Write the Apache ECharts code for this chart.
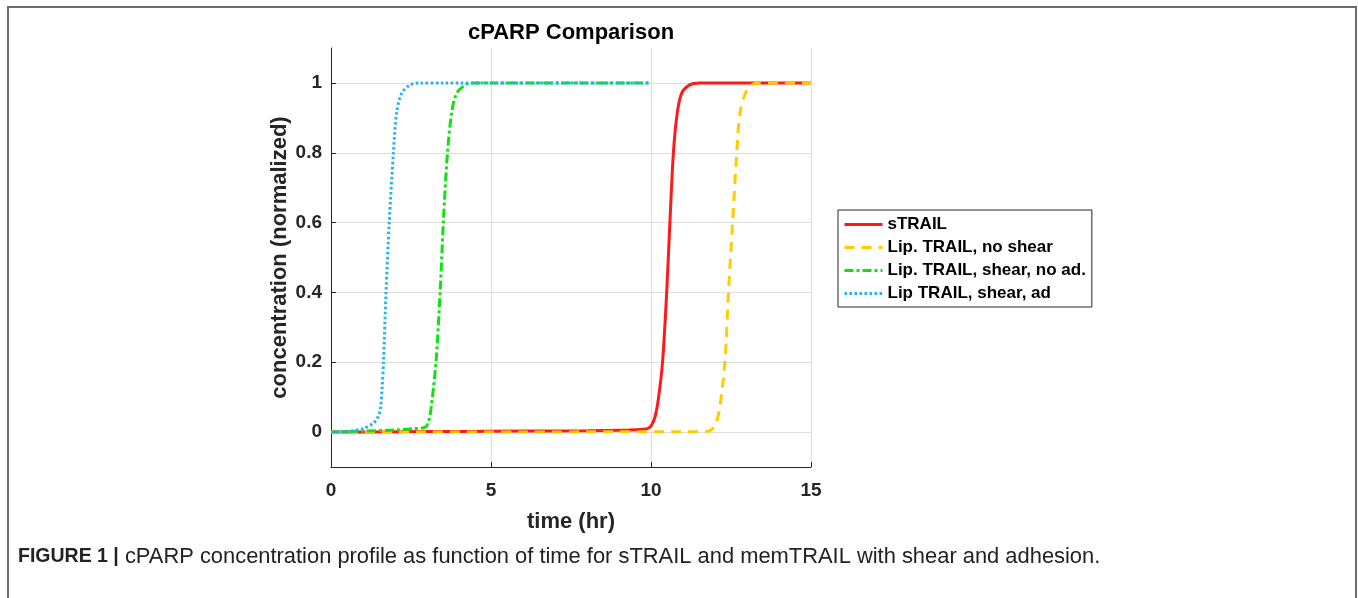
<!DOCTYPE html>
<html>
<head>
<meta charset="utf-8">
<script src="https://cdn.jsdelivr.net/npm/echarts@6/dist/echarts.min.js"></script>
<style>
html,body{margin:0;padding:0;background:#fff;}
#chart{width:1358px;height:598px;}
</style>
</head>
<body>
<div id="chart"></div>
<script>
// ---- data ----
const seriesNames = ['sTRAIL', 'Lip. TRAIL, no shear', 'Lip. TRAIL, shear, no ad.', 'Lip TRAIL, shear, ad'];

const sTrailTime = [0, 2, 4, 6, 8, 9.3, 9.75, 9.92, 10.02, 10.13, 10.23, 10.36, 10.49, 10.59, 10.70, 10.82, 10.96, 11.22, 11.53, 12, 13, 14, 15];
const sTrailConc = [0, 0.001, 0.002, 0.003, 0.004, 0.006, 0.008, 0.011, 0.02, 0.045, 0.095, 0.2, 0.4, 0.6, 0.8, 0.914, 0.971, 0.995, 1, 1, 1, 1, 1];

const noShearTime = [0, 3, 6, 9, 11, 11.74, 11.9, 12.03, 12.15, 12.31, 12.42, 12.55, 12.68, 12.78, 12.97, 13.15, 13.35, 14, 15];
const noShearConc = [0, 0, 0, 0.001, 0.001, 0.002, 0.008, 0.025, 0.07, 0.2, 0.4, 0.6, 0.8, 0.914, 0.975, 0.995, 1, 1, 1];

const shearNoAdTime = [0, 1, 2.05, 2.6, 2.95, 3.05, 3.13, 3.28, 3.41, 3.51, 3.64, 3.77, 3.93, 4.24, 4.44, 5, 7.5, 10];
const shearNoAdConc = [0, 0.003, 0.006, 0.01, 0.014, 0.03, 0.07, 0.2, 0.4, 0.6, 0.8, 0.914, 0.971, 0.997, 1, 1, 1, 1];

const shearAdTime = [0, 0.6, 1.0, 1.32, 1.48, 1.55, 1.6, 1.64, 1.72, 1.82, 1.95, 2.05, 2.21, 2.47, 2.78, 3.5, 5, 7.5, 10];
const shearAdConc = [0, 0.003, 0.01, 0.025, 0.045, 0.07, 0.13, 0.2, 0.4, 0.6, 0.8, 0.914, 0.971, 0.994, 1, 1, 1, 1, 1];

const xTicks = [0, 5, 10, 15];
const yTicks = [0, 0.2, 0.4, 0.6, 0.8, 1];

const titleText = 'cPARP Comparison';
const xName = 'time (hr)';
const yName = 'concentration (normalized)';
const captionBold = 'FIGURE 1 |';
const captionText = ' cPARP concentration profile as function of time for sTRAIL and memTRAIL with shear and adhesion.';

// ---- build ----
function pairs(t, c) { return t.map((v, i) => [v, c[i]]); }
const FONT = '"Liberation Sans", Arial, Helvetica, sans-serif';
const AX = '#262626';
const lineCommon = {type: 'line', showSymbol: false, symbol: 'none', smooth: 0.3};

const chart = echarts.init(document.getElementById('chart'), null, {renderer: 'canvas'});
chart.setOption({
  backgroundColor: '#ffffff',
  animation: false,
  title: {
    text: titleText, left: 566, top: 17, textAlign: 'center',
    textStyle: {fontFamily: FONT, fontWeight: 'bold', fontSize: 22, color: '#000'}
  },
  legend: {
    orient: 'vertical', left: 838, top: 210,
    padding: [6, 6, 5, 5], itemGap: 6, itemWidth: 38, itemHeight: 14,
    borderColor: '#262626', borderWidth: 1, backgroundColor: '#fff',
    itemStyle: {opacity: 0, color: 'rgba(0,0,0,0)', borderWidth: 0},
    lineStyle: {width: 3},
    textStyle: {fontFamily: FONT, fontWeight: 'bold', fontSize: 17, color: '#000'},
    data: seriesNames
  },
  grid: {left: 331, right: 547, top: 48, bottom: 131, containLabel: false},
  xAxis: {
    type: 'value', min: 0, max: 15, interval: 5,
    name: xName, nameLocation: 'middle', nameGap: 44,
    nameTextStyle: {fontFamily: FONT, fontWeight: 'bold', fontSize: 22, color: '#262626'},
    axisLine: {show: true, onZero: false, lineStyle: {color: AX, width: 1}},
    axisTick: {show: true, inside: true, length: 5, lineStyle: {color: AX}},
    axisLabel: {fontFamily: FONT, fontWeight: 'bold', fontSize: 19, color: '#262626', margin: 14},
    splitLine: {show: true, lineStyle: {color: '#dedede', width: 1}}
  },
  yAxis: {
    type: 'value', min: -0.1, max: 1.1,
    name: yName, nameLocation: 'middle', nameGap: 40,
    nameTextStyle: {fontFamily: FONT, fontWeight: 'bold', fontSize: 22, color: '#262626'},
    axisLine: {show: true, onZero: false, lineStyle: {color: AX, width: 1}},
    axisTick: {show: true, inside: true, length: 5, lineStyle: {color: AX}, customValues: yTicks},
    axisLabel: {fontFamily: FONT, fontWeight: 'bold', fontSize: 19, color: '#262626', margin: 9, customValues: yTicks},
    splitLine: {show: true, lineStyle: {color: '#dedede', width: 1}}
  },
  series: [
    Object.assign({name: seriesNames[0], data: pairs(sTrailTime, sTrailConc),
     color: '#ff1a1a', lineStyle: {color: '#ff1a1a', width: 3}}, lineCommon),
    Object.assign({name: seriesNames[1], data: pairs(noShearTime, noShearConc),
     color: '#ffcc00', lineStyle: {color: '#ffcc00', width: 3, type: [10, 7]}}, lineCommon),
    Object.assign({name: seriesNames[2], data: pairs(shearNoAdTime, shearNoAdConc),
     color: '#11e011', lineStyle: {color: '#11e011', width: 3, type: [9, 3, 3, 3]}}, lineCommon),
    Object.assign({name: seriesNames[3], data: pairs(shearAdTime, shearAdConc),
     color: '#22b4f0', lineStyle: {color: '#22b4f0', width: 3, type: [2.5, 2.5]}}, lineCommon)
  ],
  graphic: [
    {type: 'rect', shape: {x: 8, y: 7, width: 1348, height: 620}, style: {fill: 'none', stroke: '#6b6b6b', lineWidth: 2}, silent: true, z: -1},
    {type: 'text', left: 18, top: 546,
     style: {
       text: '{b|' + captionBold + '}{r|' + captionText + '}',
       rich: {
         b: {fontFamily: FONT, fontWeight: 'bold', fontSize: 19.5, fill: '#222'},
         r: {fontFamily: FONT, fontSize: 21.9, fill: '#222'}
       }
     }}
  ]
});
</script>
</body>
</html>
